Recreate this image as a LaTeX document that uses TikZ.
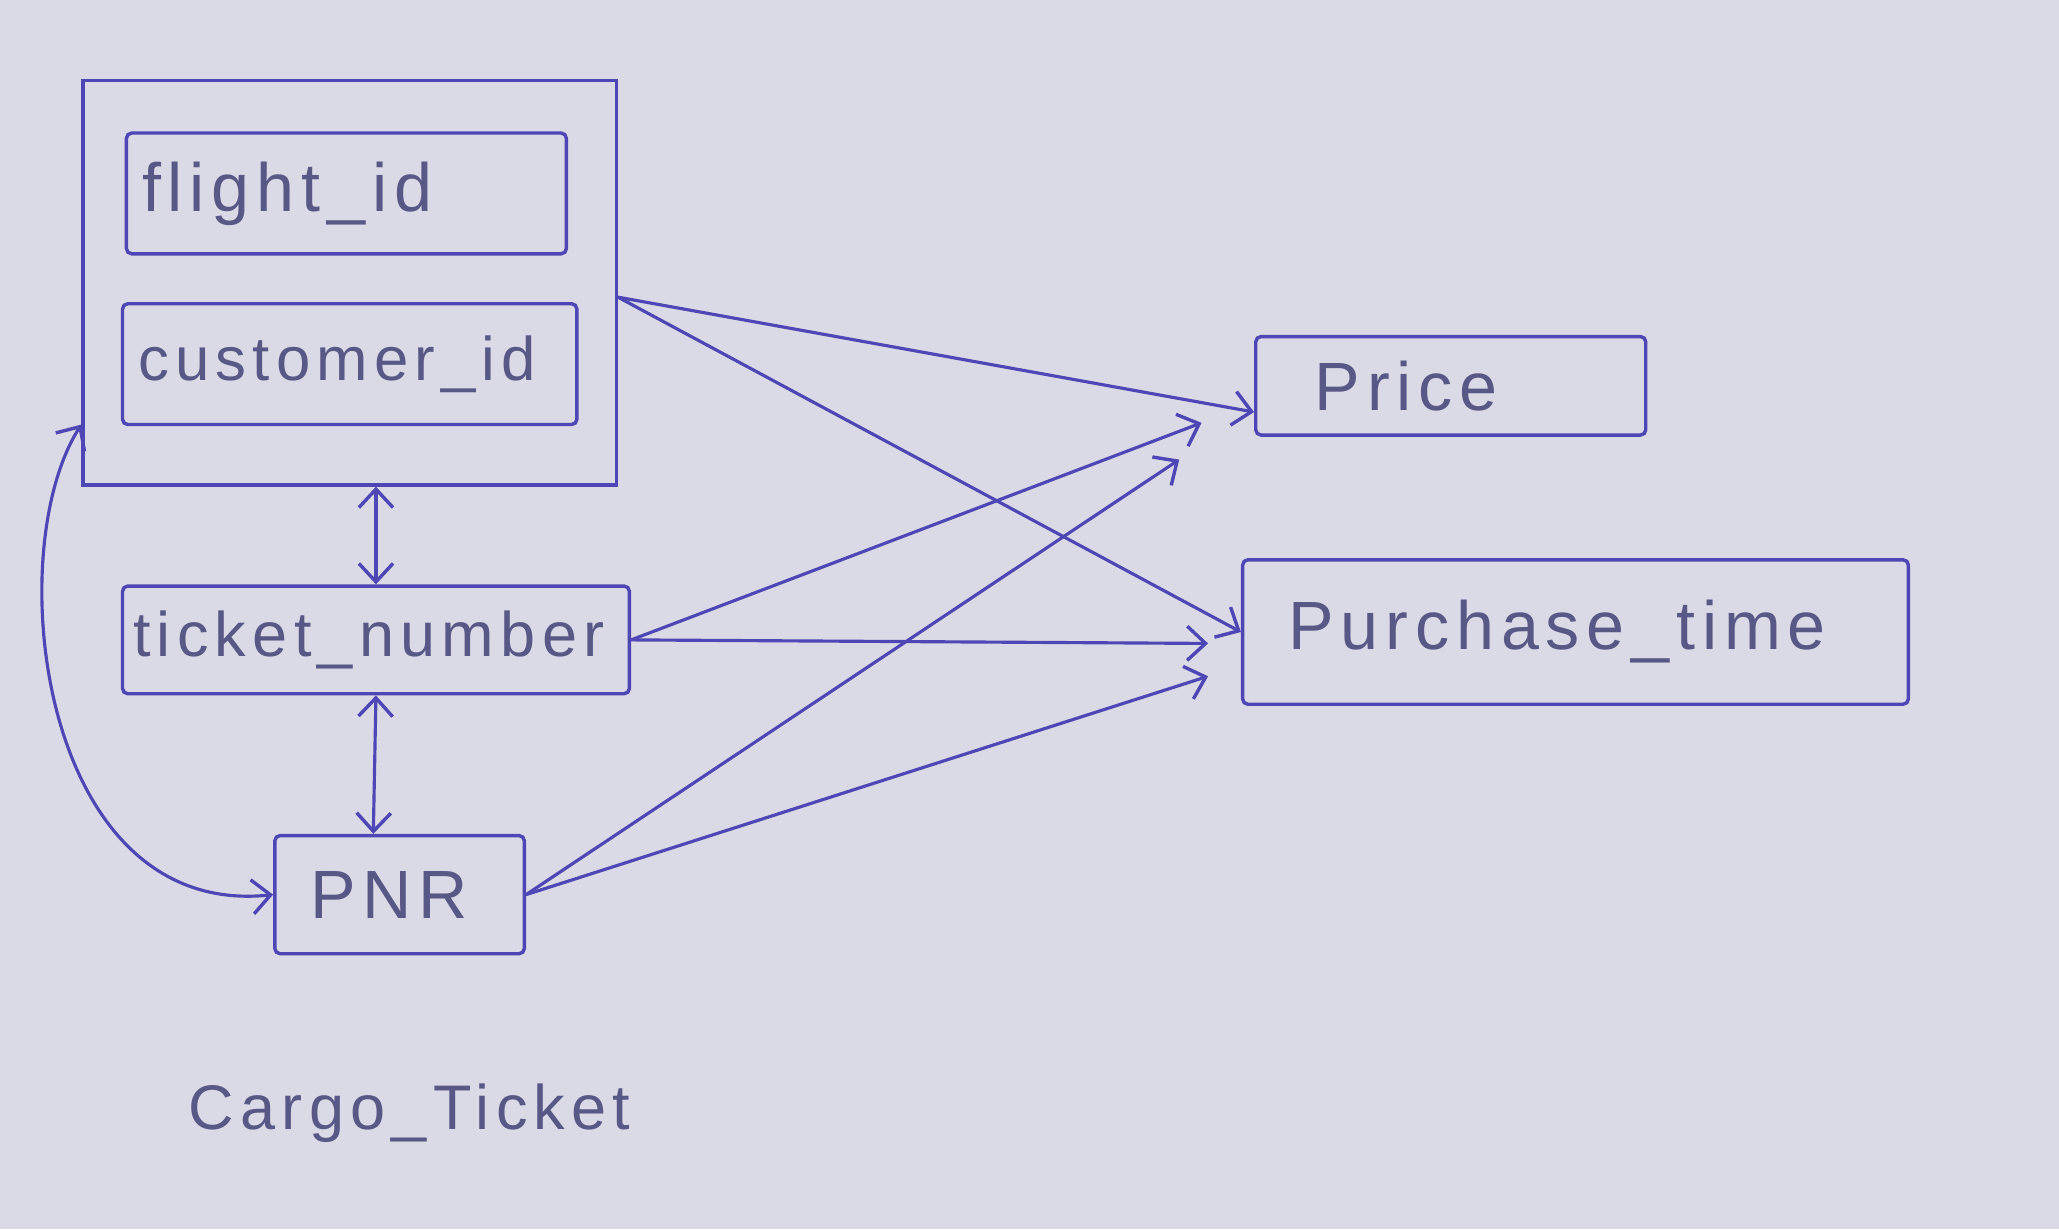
\documentclass[tikz,border=0pt]{standalone}
\usepackage{fontspec}
\setmainfont{Liberation Sans}
\newfontfamily\handfont[LetterSpace=10]{Liberation Sans}
\usetikzlibrary{arrows.meta}
\definecolor{ink}{RGB}{78,70,180}
\definecolor{pencil}{RGB}{88,88,135}
\definecolor{paper}{RGB}{218,218,230}
\begin{document}
\begin{tikzpicture}[x=1pt,y=-1pt,
  fbox/.style={draw=ink,line width=2.6pt,rounded corners=4pt,align=left,anchor=north west,
    font={\handfont\fontsize{52}{58}\selectfont},text=pencil},
  tip/.tip={Straight Barb[length=14pt,width=26pt,line width=2.6pt]},
  arr/.style={draw=ink,line width=2.4pt,-tip},
  darr/.style={draw=ink,line width=2.4pt,tip-tip}]
\fill[paper] (0,0) rectangle (1568,936);
\useasboundingbox (0,0) rectangle (1568,936);
\node[draw=ink,line width=2.6pt,anchor=north west,minimum width=406pt,minimum height=308pt,inner sep=0pt] (outer) at (62,60) {};
\node[fbox,inner xsep=12pt,text width=311pt,minimum height=92pt] (flight) at (95,100) {flight\_id};
\node[fbox,inner xsep=12pt,text width=322pt,minimum height=92pt,font={\handfont\fontsize{47}{53}\selectfont}] (customer) at (92,230) {customer\_id};
\node[fbox,inner xsep=8pt,text width=370pt,minimum height=82pt,font={\handfont\fontsize{48}{54}\selectfont}] (ticket) at (92,445) {ticket\_number};
\node[fbox,inner xsep=27pt,text width=136pt,minimum height=90pt] (pnr) at (208,635) {PNR};
\node[fbox,inner xsep=45pt,text width=207pt,minimum height=75pt] (price) at (955,255) {Price};
\node[fbox,inner xsep=35pt,text width=437pt,minimum height=110pt] (purchase) at (945,425) {Purchase\_time};
\node[font={\handfont\fontsize{48}{54}\selectfont},text=pencil] (caption) at (312,848) {Cargo\_Ticket};
\coordinate (p1) at (915,322);
\coordinate (p2) at (898,350);
\coordinate (q1) at (920,490);
\coordinate (q2) at (920,515);
\draw[arr] ([yshift=-11pt]outer.east) -- ([yshift=-20pt]price.west);
\draw[arr] ([yshift=-11pt]outer.east) -- (purchase.west);
\draw[arr] (ticket.east) -- (p1);
\draw[arr] (ticket.east) -- (q1);
\draw[arr] (pnr.east) -- (p2);
\draw[arr] (pnr.east) -- (q2);
\draw[darr] ([xshift=20pt]outer.south) -- (ticket.north);
\draw[darr] (ticket.south) -- ([xshift=-20pt]pnr.north);
\draw[darr] ([yshift=-108pt]outer.west) .. controls (0,420) and (30,700) .. (pnr.west);
\end{tikzpicture}
\end{document}
